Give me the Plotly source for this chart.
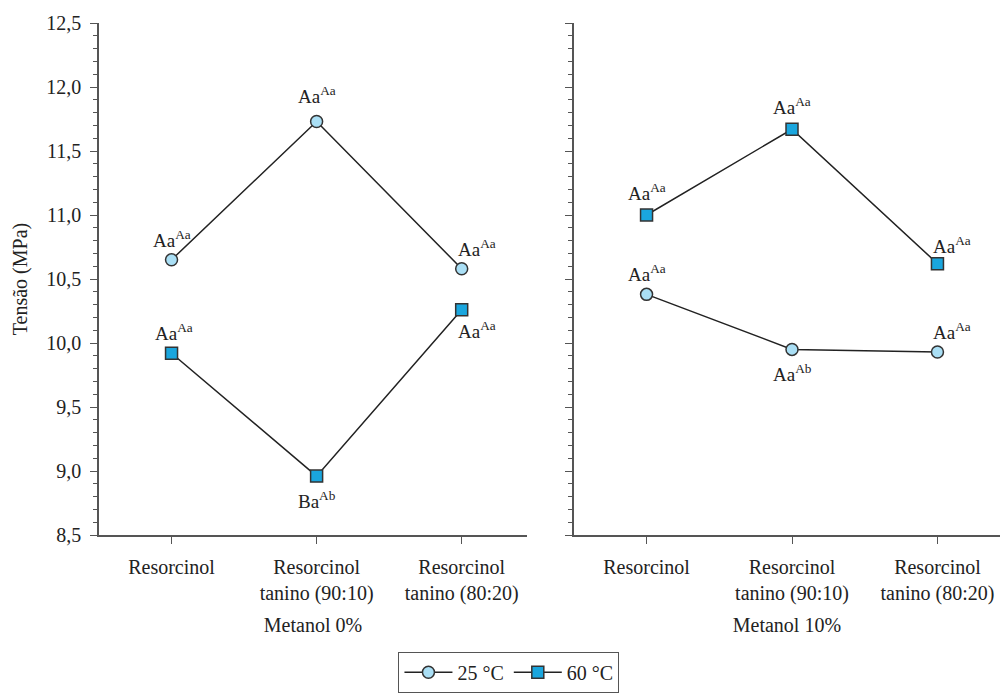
import plotly.graph_objects as go

categories = ["Resorcinol", "Resorcinol<br>tanino (90:10)", "Resorcinol<br>tanino (80:20)"]
panels = ["Metanol 0%", "Metanol 10%"]

t25_m0 = [10.65, 11.73, 10.58]
t60_m0 = [9.92, 8.96, 10.26]
t25_m10 = [10.38, 9.95, 9.93]
t60_m10 = [11.00, 11.67, 10.62]

lab25_m0 = ["Aa<sup>Aa</sup>", "Aa<sup>Aa</sup>", "Aa<sup>Aa</sup>"]
lab60_m0 = ["Aa<sup>Aa</sup>", "Ba<sup>Ab</sup>", "Aa<sup>Aa</sup>"]
lab25_m10 = ["Aa<sup>Aa</sup>", "Aa<sup>Ab</sup>", "Aa<sup>Aa</sup>"]
lab60_m10 = ["Aa<sup>Aa</sup>", "Aa<sup>Aa</sup>", "Aa<sup>Aa</sup>"]

FONT = "'Liberation Serif', 'DejaVu Serif', 'Times New Roman', serif"
FS = 20
xidx = [0, 1, 2]

c25 = "#aadff5"
c60 = "#1aa6de"
lc = "#222222"

fig = go.Figure()

def add(ys, xa, ya, color, symbol, name, show):
    fig.add_trace(go.Scatter(
        x=xidx, y=ys, xaxis=xa, yaxis=ya, mode="lines+markers", name=name,
        showlegend=show,
        line=dict(color=lc, width=1.5),
        marker=dict(symbol=symbol, size=12, color=color,
                    line=dict(color="#333333", width=1.5)),
    ))

add(t25_m0, "x", "y", c25, "circle", "25 °C", True)
add(t60_m0, "x", "y", c60, "square", "60 °C", True)
add(t25_m10, "x2", "y2", c25, "circle", "25 °C", False)
add(t60_m10, "x2", "y2", c60, "square", "60 °C", False)

def annotate(ys, labels, xr, yr, shifts):
    for i, (v, t) in enumerate(zip(ys, labels)):
        dx, dy = shifts[i]
        fig.add_annotation(x=xidx[i], y=v, xref=xr, yref=yr, text=t, showarrow=False,
                           xshift=dx, yshift=dy, font=dict(family=FONT, size=19, color="#222"))

annotate(t25_m0, lab25_m0, "x", "y", [(0, 21), (0, 27), (15, 21)])
annotate(t60_m0, lab60_m0, "x", "y", [(2, 21), (0, -24), (15, -20)])
annotate(t25_m10, lab25_m10, "x2", "y2", [(0, 21), (0, -24), (15, 21)])
annotate(t60_m10, lab60_m10, "x2", "y2", [(0, 23), (0, 23), (15, 19)])

axis_common = dict(
    tickmode="array", tickvals=xidx, ticktext=categories,
    showline=True, linecolor="#555", linewidth=1.5, ticks="outside", ticklen=7,
    tickcolor="#555", tickwidth=1.2, showgrid=False, zeroline=False,
    ticklabelstandoff=6,
    tickfont=dict(family=FONT, size=FS, color="#222"),
)
yaxis_common = dict(
    range=[8.5, 12.5], dtick=0.5, tickformat=".1f", showline=True, linecolor="#555",
    linewidth=1.5, ticks="outside", ticklen=7, tickcolor="#555", tickwidth=1.2,
    showgrid=False, zeroline=False, ticklabelstandoff=5,
    minor=dict(dtick=0.1, ticks="outside", ticklen=4, tickcolor="#555", tickwidth=1),
    tickfont=dict(family=FONT, size=FS, color="#222"),
)

fig.update_layout(
    width=1000, height=695,
    margin=dict(l=99, r=0, t=23, b=160),
    paper_bgcolor="white", plot_bgcolor="white",
    separators=",.",
    font=dict(family=FONT, size=FS, color="#222"),
    xaxis=dict(domain=[0, 0.475], anchor="y", range=[-0.5, 2.45],
               title=dict(text=panels[0], font=dict(family=FONT, size=FS), standoff=14), **axis_common),
    xaxis2=dict(domain=[0.527, 1.0], anchor="y2", range=[-0.5, 2.43],
                title=dict(text=panels[1], font=dict(family=FONT, size=FS), standoff=14), **axis_common),
    yaxis=dict(domain=[0, 1], anchor="x",
               title=dict(text="Tensão (MPa)", font=dict(family=FONT, size=FS), standoff=13), **yaxis_common),
    yaxis2=dict(domain=[0, 1], anchor="x2", showticklabels=False, **yaxis_common),
    legend=dict(orientation="h", x=0.455, xanchor="center", y=-0.228, yanchor="top",
                bordercolor="#555", borderwidth=1, font=dict(family=FONT, size=FS),
                itemwidth=48),
)

fig.write_html("out.html", config={"displayModeBar": False},
               post_script="document.body.style.margin='0';document.body.style.overflow='hidden';")
